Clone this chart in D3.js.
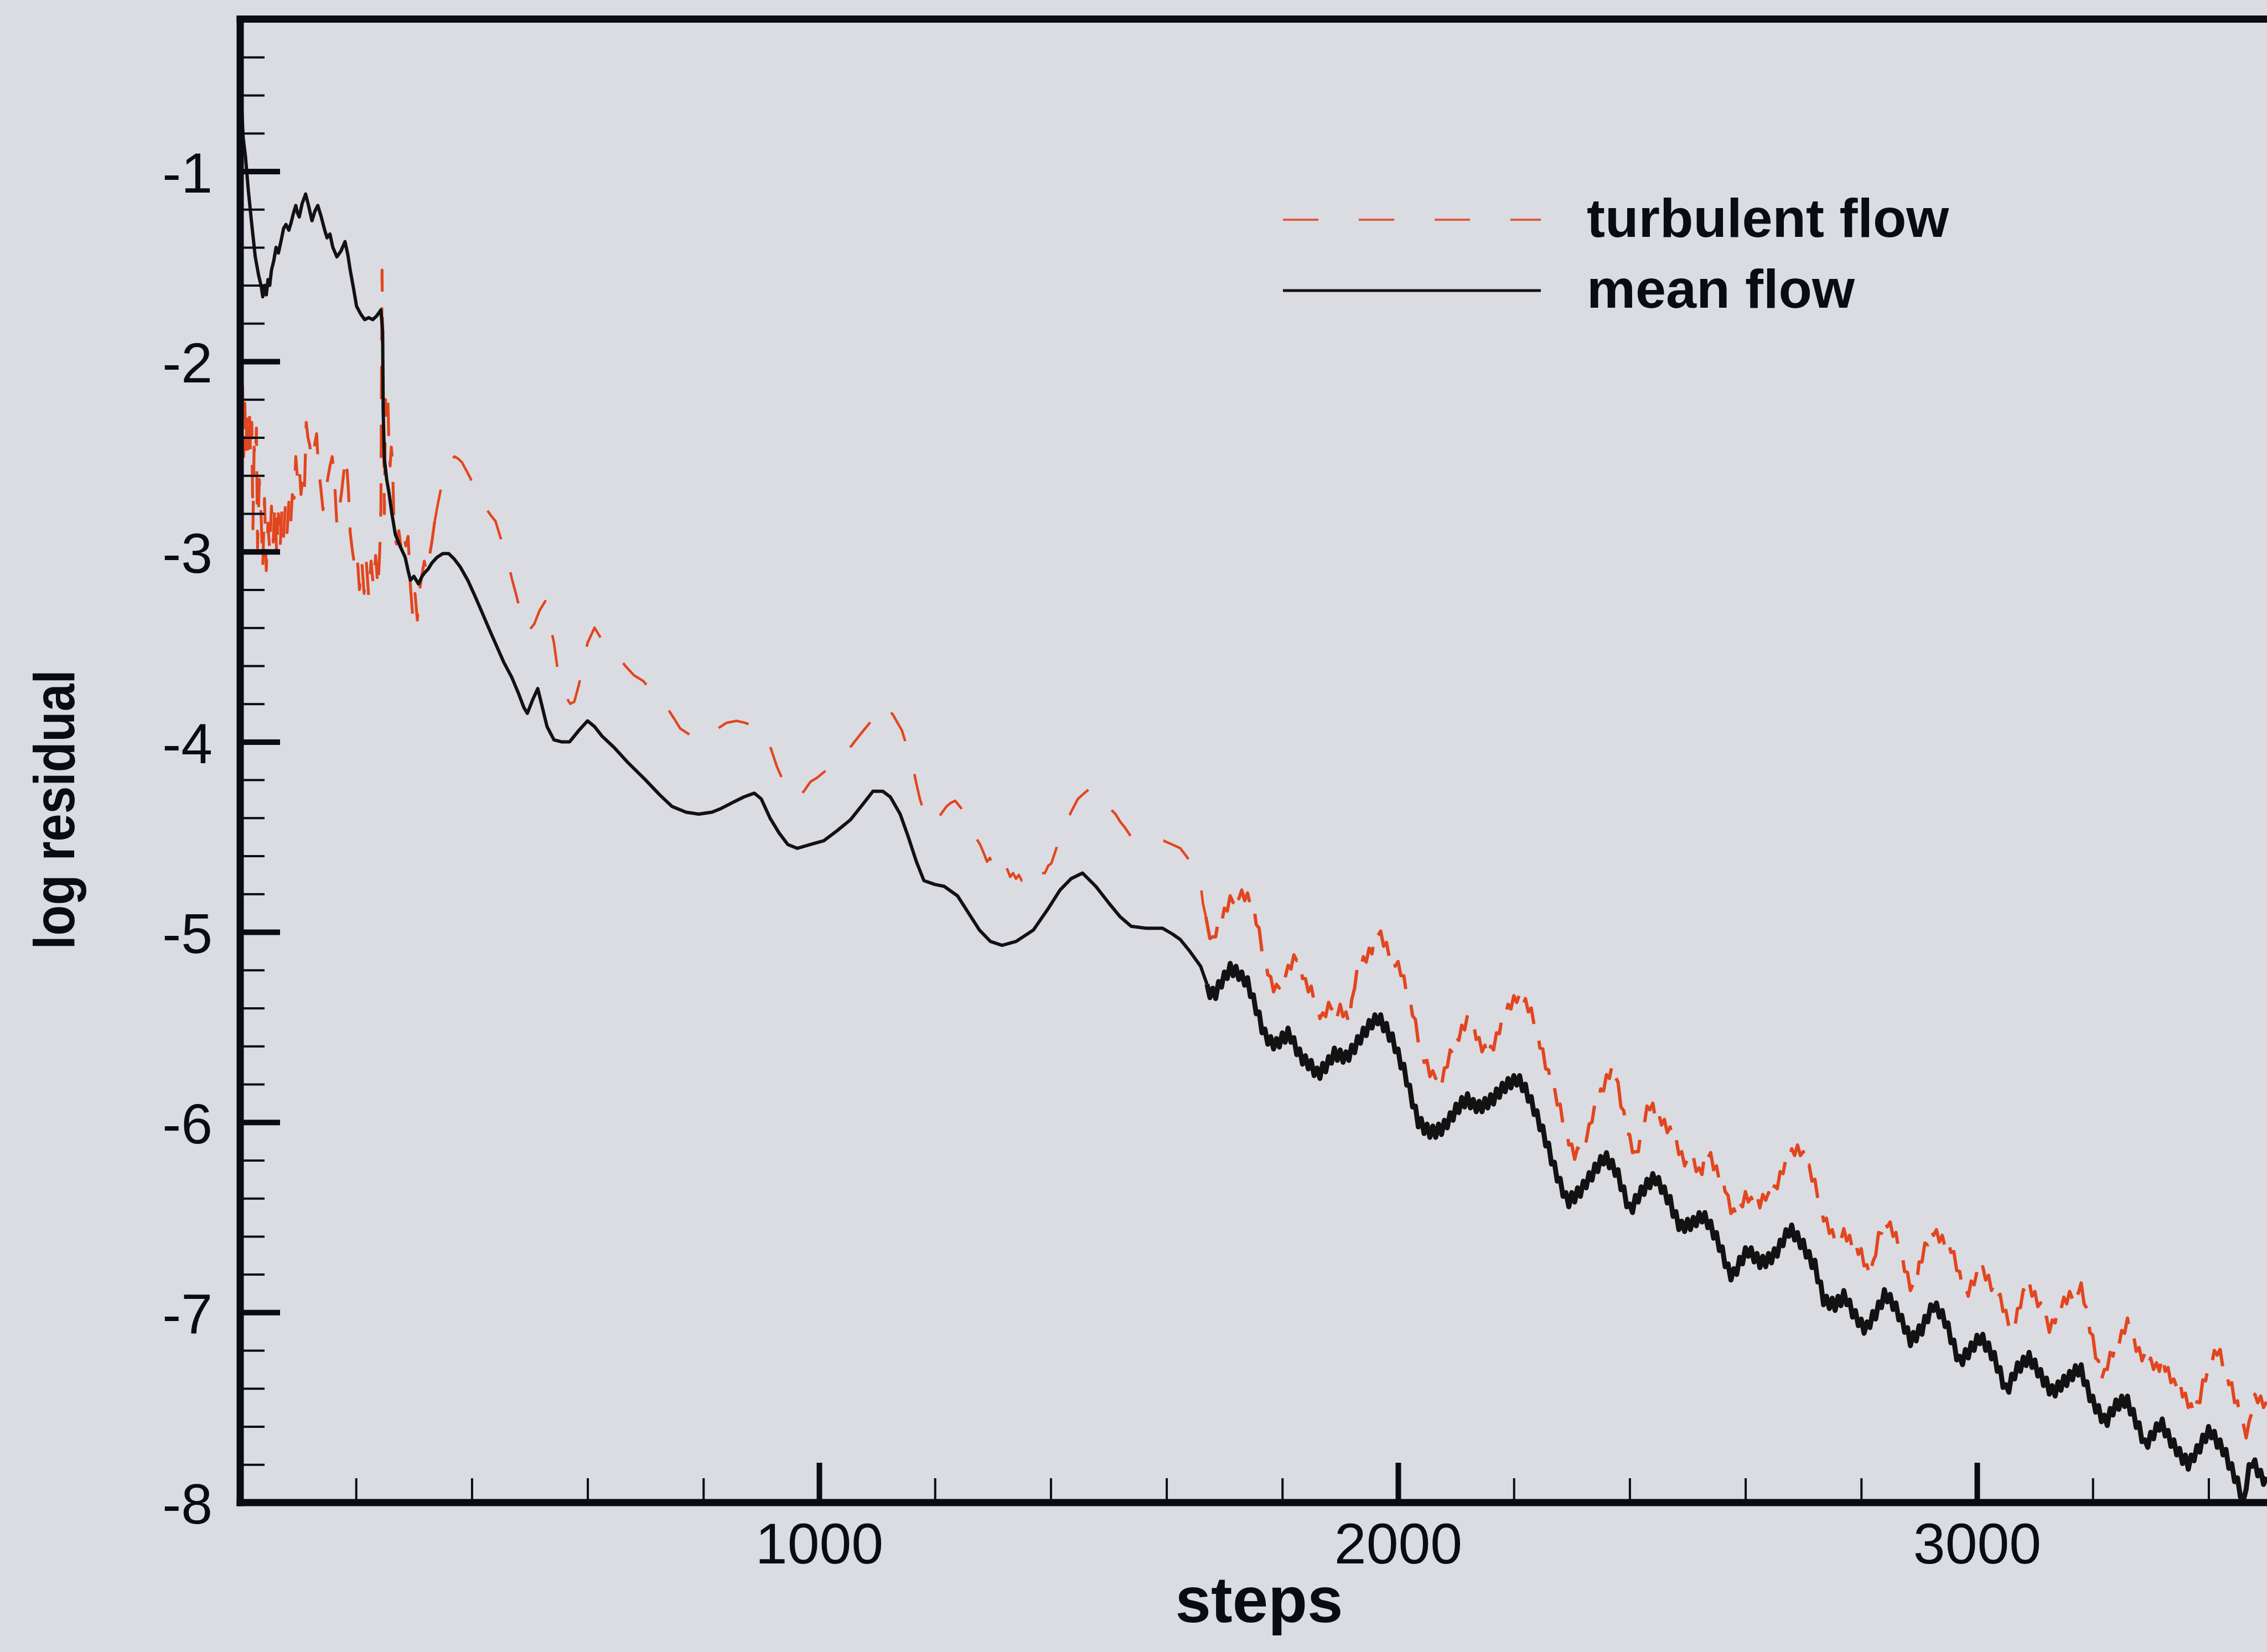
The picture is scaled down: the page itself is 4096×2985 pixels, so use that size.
<!DOCTYPE html>
<html>
<head>
<meta charset="utf-8">
<script src="https://cdn.jsdelivr.net/npm/d3@7"></script>
<style>
  html, body { margin: 0; padding: 0; background: #dbdbe2; }
  svg { display: block; }
</style>
</head>
<body>
<script>
// Convergence history: log10 of the residual versus iteration steps.

// mean flow residual, [step, log residual]
const meanFlow = [
  [0,-0.35],[2,-0.62],[5,-0.82],[9,-0.92],[14,-1.10],[20,-1.28],[26,-1.45],[32,-1.55],[36,-1.60],[39,-1.66],[42,-1.60],
  [45,-1.65],[48,-1.57],[51,-1.60],[54,-1.52],[58,-1.47],[62,-1.40],[66,-1.43],[71,-1.36],[75,-1.30],[79,-1.28],
  [84,-1.31],[88,-1.27],[92,-1.22],[96,-1.18],[99,-1.22],[102,-1.24],[107,-1.17],[113,-1.12],[118,-1.18],[124,-1.26],
  [129,-1.21],[134,-1.18],[140,-1.24],[146,-1.31],[150,-1.35],[155,-1.33],[160,-1.40],[167,-1.45],[174,-1.42],[181,-1.37],
  [186,-1.44],[190,-1.52],[196,-1.62],[201,-1.71],[208,-1.75],[215,-1.78],[222,-1.77],[229,-1.78],[236,-1.76],[243,-1.73],
  [246,-1.84],[247,-2.26],[249,-2.51],[253,-2.62],[257,-2.69],[262,-2.80],[268,-2.91],[276,-2.97],[285,-3.03],[290,-3.10],
  [294,-3.15],[300,-3.13],[308,-3.17],[314,-3.13],[319,-3.11],[325,-3.09],[331,-3.06],[340,-3.03],[350,-3.01],[360,-3.01],
  [370,-3.04],[380,-3.08],[393,-3.15],[405,-3.23],[415,-3.30],[429,-3.40],[442,-3.49],[455,-3.58],[469,-3.66],[480,-3.74],
  [490,-3.82],[496,-3.85],[505,-3.78],[514,-3.72],[522,-3.82],[530,-3.92],[542,-3.99],[555,-4.00],[569,-4.00],[585,-3.94],
  [600,-3.89],[612,-3.92],[625,-3.97],[646,-4.03],[670,-4.11],[700,-4.20],[725,-4.28],[746,-4.34],[770,-4.37],[792,-4.38],
  [815,-4.37],[831,-4.35],[850,-4.32],[870,-4.29],[888,-4.27],[900,-4.30],[915,-4.40],[931,-4.48],[946,-4.54],[962,-4.56],
  [985,-4.54],[1008,-4.52],[1030,-4.47],[1054,-4.41],[1075,-4.33],[1093,-4.26],[1110,-4.26],[1123,-4.29],[1140,-4.38],[1154,-4.50],
  [1168,-4.63],[1181,-4.73],[1200,-4.75],[1216,-4.76],[1239,-4.81],[1258,-4.90],[1277,-4.99],[1296,-5.05],[1316,-5.07],[1340,-5.05],
  [1370,-4.99],[1395,-4.88],[1416,-4.78],[1435,-4.72],[1455,-4.69],[1478,-4.76],[1501,-4.85],[1520,-4.92],[1539,-4.97],[1565,-4.98],
  [1593,-4.98],[1610,-5.01],[1624,-5.04],[1640,-5.10],[1659,-5.18],
  [1670,-5.275],[1675,-5.345],[1680,-5.295],[1685,-5.35],[1690,-5.26],[1695,-5.29],[1700,-5.21],[1705,-5.245],[1710,-5.165],[1715,-5.23],
  [1720,-5.18],[1725,-5.25],[1730,-5.21],[1735,-5.28],[1740,-5.24],[1745,-5.34],[1750,-5.33],[1755,-5.43],[1760,-5.42],[1765,-5.53],
  [1770,-5.51],[1775,-5.59],[1780,-5.55],[1785,-5.615],[1790,-5.56],[1795,-5.605],[1800,-5.53],[1805,-5.58],[1810,-5.505],[1815,-5.58],
  [1820,-5.555],[1825,-5.645],[1830,-5.615],[1835,-5.695],[1840,-5.65],[1845,-5.72],[1850,-5.675],[1855,-5.755],[1860,-5.715],[1865,-5.77],
  [1870,-5.69],[1875,-5.735],[1880,-5.655],[1885,-5.69],[1890,-5.61],[1895,-5.675],[1900,-5.62],[1905,-5.685],[1910,-5.63],[1915,-5.675],
  [1920,-5.595],[1925,-5.635],[1930,-5.55],[1935,-5.585],[1940,-5.505],[1945,-5.545],[1950,-5.465],[1955,-5.505],[1960,-5.435],[1965,-5.483],
  [1970,-5.435],[1975,-5.52],[1980,-5.48],[1985,-5.57],[1990,-5.535],[1995,-5.63],[2000,-5.615],[2005,-5.715],[2010,-5.695],[2015,-5.805],
  [2020,-5.805],[2025,-5.92],[2030,-5.915],[2035,-6.025],[2040,-5.98],[2045,-6.06],[2050,-6.01],[2055,-6.08],[2060,-6.02],[2065,-6.08],
  [2070,-6.01],[2075,-6.065],[2080,-5.99],[2085,-6.03],[2090,-5.95],[2095,-5.99],[2100,-5.905],[2105,-5.95],[2110,-5.87],[2115,-5.92],
  [2120,-5.85],[2125,-5.925],[2130,-5.88],[2135,-5.945],[2140,-5.89],[2145,-5.945],[2150,-5.875],[2155,-5.925],[2160,-5.855],[2165,-5.905],
  [2170,-5.825],[2175,-5.87],[2180,-5.795],[2185,-5.84],[2190,-5.77],[2195,-5.82],[2200,-5.755],[2205,-5.805],[2210,-5.755],[2215,-5.835],
  [2220,-5.80],[2225,-5.89],[2230,-5.865],[2235,-5.96],[2240,-5.94],[2245,-6.04],[2250,-6.02],[2255,-6.125],[2260,-6.11],[2265,-6.22],
  [2270,-6.21],[2275,-6.31],[2280,-6.295],[2285,-6.39],[2290,-6.37],[2295,-6.445],[2300,-6.37],[2305,-6.42],[2310,-6.345],[2315,-6.39],
  [2320,-6.31],[2325,-6.345],[2330,-6.265],[2335,-6.305],[2340,-6.22],[2345,-6.26],[2350,-6.18],[2355,-6.22],[2360,-6.16],[2365,-6.24],
  [2370,-6.20],[2375,-6.28],[2380,-6.25],[2385,-6.355],[2390,-6.34],[2395,-6.445],[2400,-6.43],[2405,-6.475],[2410,-6.385],[2415,-6.42],
  [2420,-6.34],[2425,-6.38],[2430,-6.30],[2435,-6.345],[2440,-6.27],[2445,-6.325],[2450,-6.29],[2455,-6.37],[2460,-6.34],[2465,-6.425],
  [2470,-6.39],[2475,-6.495],[2480,-6.47],[2485,-6.565],[2490,-6.52],[2495,-6.575],[2500,-6.51],[2505,-6.565],[2510,-6.50],[2515,-6.545],
  [2520,-6.475],[2525,-6.525],[2530,-6.475],[2535,-6.555],[2540,-6.52],[2545,-6.61],[2550,-6.58],[2555,-6.675],[2560,-6.655],[2565,-6.76],
  [2570,-6.745],[2575,-6.83],[2580,-6.77],[2585,-6.80],[2590,-6.71],[2595,-6.745],[2600,-6.66],[2605,-6.705],[2610,-6.66],[2615,-6.735],
  [2620,-6.69],[2625,-6.765],[2630,-6.705],[2635,-6.76],[2640,-6.69],[2645,-6.74],[2650,-6.665],[2655,-6.705],[2660,-6.62],[2665,-6.65],
  [2670,-6.565],[2675,-6.60],[2680,-6.54],[2685,-6.62],[2690,-6.58],[2695,-6.66],[2700,-6.62],[2705,-6.71],[2710,-6.68],[2715,-6.765],
  [2720,-6.725],[2725,-6.84],[2730,-6.84],[2735,-6.96],[2740,-6.915],[2745,-6.98],[2750,-6.925],[2755,-6.99],[2760,-6.915],[2765,-6.965],
  [2770,-6.885],[2775,-6.96],[2780,-6.935],[2785,-7.025],[2790,-6.99],[2795,-7.07],[2800,-7.035],[2805,-7.11],[2810,-7.05],[2815,-7.08],
  [2820,-6.995],[2825,-7.035],[2830,-6.945],[2835,-6.975],[2840,-6.88],[2845,-6.945],[2850,-6.905],[2855,-6.985],[2860,-6.95],[2865,-7.04],
  [2870,-7.015],[2875,-7.105],[2880,-7.08],[2885,-7.175],[2890,-7.105],[2895,-7.15],[2900,-7.07],[2905,-7.115],[2910,-7.02],[2915,-7.05],
  [2920,-6.96],[2925,-6.99],[2930,-6.95],[2935,-7.025],[2940,-6.99],[2945,-7.075],[2950,-7.055],[2955,-7.16],[2960,-7.145],[2965,-7.25],
  [2970,-7.23],[2975,-7.275],[2980,-7.195],[2985,-7.24],[2990,-7.16],[2995,-7.20],[3000,-7.12],[3005,-7.165],[3010,-7.115],[3015,-7.20],
  [3020,-7.16],[3025,-7.245],[3030,-7.21],[3035,-7.31],[3040,-7.29],[3045,-7.395],[3050,-7.38],[3055,-7.42],[3060,-7.325],[3065,-7.35],
  [3070,-7.265],[3075,-7.31],[3080,-7.235],[3085,-7.28],[3090,-7.21],[3095,-7.29],[3100,-7.25],[3105,-7.335],[3110,-7.30],[3115,-7.385],
  [3120,-7.345],[3125,-7.43],[3130,-7.385],[3135,-7.44],[3140,-7.365],[3145,-7.41],[3150,-7.335],[3155,-7.385],[3160,-7.31],[3165,-7.355],
  [3170,-7.28],[3175,-7.33],[3180,-7.275],[3185,-7.38],[3190,-7.365],[3195,-7.465],[3200,-7.44],[3205,-7.525],[3210,-7.49],[3215,-7.575],
  [3220,-7.54],[3225,-7.595],[3230,-7.505],[3235,-7.54],[3240,-7.46],[3245,-7.51],[3250,-7.44],[3255,-7.495],[3260,-7.44],[3265,-7.535],
  [3270,-7.51],[3275,-7.605],[3280,-7.58],[3285,-7.68],[3290,-7.67],[3295,-7.71],[3300,-7.63],[3305,-7.665],[3310,-7.585],[3315,-7.62],
  [3320,-7.56],[3325,-7.65],[3330,-7.62],[3335,-7.705],[3340,-7.67],[3345,-7.75],[3350,-7.715],[3355,-7.795],[3360,-7.75],[3365,-7.825],
  [3370,-7.75],[3375,-7.78],[3380,-7.70],[3385,-7.735],[3390,-7.645],[3395,-7.68],[3400,-7.60],[3405,-7.66],[3410,-7.625],[3415,-7.71],
  [3420,-7.67],[3425,-7.75],[3430,-7.72],[3435,-7.82],[3440,-7.795],[3445,-7.89],[3450,-7.87],[3455,-7.97],[3460,-7.99],[3465,-7.93],
  [3470,-7.80],[3475,-7.81],[3480,-7.775],[3485,-7.86],[3490,-7.83],[3495,-7.905],[3500,-7.865]
];

// turbulent flow residual, [step, log residual]
const turbulentFlow = [
  [0,-1.90],[2,-2.45],[4,-2.10],[6,-2.50],[8,-2.22],[10,-2.48],[12,-2.25],[14,-2.46],[16,-2.28],[18,-2.50],
  [20,-2.32],[22,-2.88],[24,-2.45],[26,-2.52],[28,-2.35],[30,-2.98],[33,-2.62],[36,-2.80],[39,-3.08],[42,-2.72],
  [45,-3.10],[48,-2.85],[51,-3.00],[54,-2.76],[57,-2.95],[60,-2.74],[63,-3.02],[66,-2.80],[69,-2.98],[72,-2.78],
  [75,-2.92],[78,-2.76],[81,-2.90],[84,-2.74],[87,-2.86],[90,-2.70],[93,-2.72],[96,-2.50],[99,-2.62],[102,-2.55],
  [105,-2.70],[108,-2.60],[111,-2.68],[114,-2.32],[117,-2.40],[120,-2.44],[124,-2.52],[128,-2.45],[132,-2.38],[135,-2.55],
  [139,-2.66],[143,-2.78],[147,-2.70],[151,-2.62],[155,-2.55],[159,-2.50],[163,-2.63],[167,-2.86],[171,-2.78],[175,-2.69],
  [179,-2.58],[183,-2.50],[187,-2.68],[190,-2.90],[194,-3.00],[198,-3.08],[202,-3.02],[206,-3.20],[210,-3.05],[214,-3.22],
  [218,-3.06],[222,-3.24],[226,-3.05],[230,-3.18],[234,-3.02],[238,-3.20],[241,-3.00],[243,-2.78],[245,-1.52],[247,-2.20],
  [249,-2.80],[251,-2.20],[253,-2.28],[255,-2.18],[257,-2.46],[259,-2.55],[261,-2.45],[263,-2.52],[266,-2.90],[270,-2.96],
  [274,-2.89],[278,-2.98],[282,-2.90],[286,-2.97],[290,-2.92],[294,-3.18],[298,-3.34],[302,-3.22],[306,-3.36],[310,-3.20],
  [314,-3.12],[318,-3.05],[322,-3.11],[326,-3.04],[331,-2.95],[336,-2.84],[342,-2.74],[348,-2.65],[355,-2.58],[362,-2.53],
  [370,-2.50],[376,-2.51],[383,-2.53],[390,-2.57],[397,-2.61],[404,-2.66],[414,-2.72],[424,-2.77],[433,-2.81],[441,-2.84],
  [450,-2.93],[461,-3.03],[469,-3.14],[477,-3.23],[485,-3.33],[494,-3.42],[500,-3.41],[508,-3.38],[517,-3.31],[527,-3.26],
  [535,-3.38],[542,-3.48],[550,-3.66],[560,-3.75],[570,-3.80],[577,-3.79],[585,-3.70],[592,-3.60],[600,-3.48],[612,-3.40],
  [622,-3.45],[632,-3.49],[642,-3.52],[650,-3.54],[665,-3.60],[680,-3.65],[696,-3.68],[710,-3.73],[722,-3.77],[735,-3.81],
  [750,-3.88],[760,-3.93],[770,-3.95],[780,-3.97],[791,-3.99],[802,-3.98],[812,-3.96],[825,-3.93],[840,-3.90],[858,-3.89],
  [872,-3.90],[890,-3.92],[904,-3.94],[915,-4.02],[927,-4.13],[937,-4.20],[947,-4.27],[956,-4.28],[966,-4.29],[976,-4.25],
  [985,-4.21],[996,-4.19],[1008,-4.16],[1024,-4.12],[1039,-4.08],[1056,-4.02],[1074,-3.95],[1093,-3.88],[1112,-3.80],[1128,-3.86],
  [1143,-3.94],[1152,-4.03],[1162,-4.13],[1168,-4.22],[1174,-4.30],[1180,-4.36],[1185,-4.41],[1191,-4.43],[1197,-4.43],[1208,-4.39],
  [1220,-4.34],[1228,-4.32],[1235,-4.31],[1243,-4.34],[1251,-4.37],[1258,-4.42],[1266,-4.47],[1272,-4.51],[1278,-4.54],[1285,-4.59],
  [1290,-4.63],[1295,-4.61],[1300,-4.65],[1305,-4.63],[1310,-4.67],[1315,-4.65],[1320,-4.69],[1325,-4.67],[1330,-4.71],[1335,-4.69],
  [1340,-4.72],[1345,-4.70],[1350,-4.73],[1355,-4.71],[1362,-4.74],[1368,-4.71],[1375,-4.73],[1382,-4.69],[1390,-4.69],[1396,-4.65],
  [1401,-4.64],[1412,-4.54],[1424,-4.45],[1435,-4.37],[1447,-4.30],[1458,-4.27],[1470,-4.24],[1482,-4.27],[1493,-4.31],[1502,-4.35],
  [1512,-4.38],[1520,-4.42],[1528,-4.45],[1539,-4.50],[1552,-4.51],[1566,-4.52],[1580,-4.53],[1595,-4.52],[1610,-4.54],[1624,-4.56],
  [1634,-4.60],[1643,-4.64],[1651,-4.70],[1659,-4.75],[1663,-4.85],[1668,-4.92],
  [1675,-5.035],[1680,-5.025],[1685,-5.025],[1690,-4.93],[1695,-4.955],[1700,-4.875],[1705,-4.89],[1710,-4.81],[1715,-4.845],[1720,-4.78],
  [1725,-4.825],[1730,-4.78],[1735,-4.835],[1740,-4.795],[1745,-4.86],[1750,-4.845],[1755,-4.96],[1760,-4.98],[1765,-5.105],[1770,-5.12],
  [1775,-5.225],[1780,-5.235],[1785,-5.315],[1790,-5.275],[1795,-5.295],[1800,-5.22],[1805,-5.24],[1810,-5.175],[1815,-5.195],[1820,-5.12],
  [1825,-5.15],[1830,-5.14],[1835,-5.245],[1840,-5.245],[1845,-5.315],[1850,-5.285],[1855,-5.365],[1860,-5.375],[1865,-5.455],[1870,-5.425],
  [1875,-5.445],[1880,-5.37],[1885,-5.405],[1890,-5.375],[1895,-5.445],[1900,-5.38],[1905,-5.445],[1910,-5.42],[1915,-5.48],[1920,-5.355],
  [1925,-5.295],[1930,-5.175],[1935,-5.20],[1940,-5.13],[1945,-5.158],[1950,-5.085],[1955,-5.115],[1960,-5.005],[1965,-5.02],[1970,-4.995],
  [1975,-5.075],[1980,-5.055],[1985,-5.135],[1990,-5.11],[1995,-5.18],[2000,-5.155],[2005,-5.23],[2010,-5.23],[2015,-5.335],[2020,-5.335],
  [2025,-5.44],[2030,-5.46],[2035,-5.58],[2040,-5.59],[2045,-5.685],[2050,-5.675],[2055,-5.76],[2060,-5.73],[2065,-5.77],[2070,-5.75],
  [2075,-5.81],[2080,-5.715],[2085,-5.71],[2090,-5.62],[2095,-5.64],[2100,-5.555],[2105,-5.57],[2110,-5.49],[2115,-5.515],[2120,-5.435],
  [2125,-5.475],[2130,-5.475],[2135,-5.565],[2140,-5.555],[2145,-5.63],[2150,-5.595],[2155,-5.66],[2160,-5.60],[2165,-5.62],[2170,-5.53],
  [2175,-5.535],[2180,-5.44],[2185,-5.45],[2190,-5.38],[2195,-5.405],[2200,-5.335],[2205,-5.37],[2210,-5.325],[2215,-5.39],[2220,-5.35],
  [2225,-5.42],[2230,-5.40],[2235,-5.49],[2240,-5.495],[2245,-5.61],[2250,-5.615],[2255,-5.72],[2260,-5.725],[2265,-5.825],[2270,-5.815],
  [2275,-5.91],[2280,-5.905],[2285,-6.015],[2290,-6.02],[2295,-6.12],[2300,-6.115],[2305,-6.195],[2310,-6.135],[2315,-6.15],[2320,-6.08],
  [2325,-6.10],[2330,-6.01],[2335,-6.00],[2340,-5.90],[2345,-5.91],[2350,-5.825],[2355,-5.835],[2360,-5.75],[2365,-5.77],[2370,-5.695],
  [2375,-5.76],[2380,-5.79],[2385,-5.92],[2390,-5.94],[2395,-6.06],[2400,-6.065],[2405,-6.16],[2410,-6.155],[2415,-6.155],[2420,-6.04],
  [2425,-6.02],[2430,-5.915],[2435,-5.935],[2440,-5.90],[2445,-5.99],[2450,-5.95],[2455,-6.015],[2460,-5.985],[2465,-6.055],[2470,-6.025],
  [2475,-6.10],[2480,-6.08],[2485,-6.17],[2490,-6.155],[2495,-6.23],[2500,-6.195],[2505,-6.225],[2510,-6.18],[2515,-6.26],[2520,-6.24],
  [2525,-6.275],[2530,-6.155],[2535,-6.19],[2540,-6.16],[2545,-6.25],[2550,-6.23],[2555,-6.31],[2560,-6.285],[2565,-6.365],[2570,-6.385],
  [2575,-6.48],[2580,-6.455],[2585,-6.495],[2590,-6.425],[2595,-6.445],[2600,-6.365],[2605,-6.42],[2610,-6.395],[2615,-6.435],[2620,-6.385],
  [2625,-6.45],[2630,-6.38],[2635,-6.41],[2640,-6.37],[2645,-6.41],[2650,-6.335],[2655,-6.35],[2660,-6.26],[2665,-6.27],[2670,-6.19],
  [2675,-6.21],[2680,-6.14],[2685,-6.175],[2690,-6.12],[2695,-6.175],[2700,-6.155],[2705,-6.24],[2710,-6.225],[2715,-6.31],[2720,-6.30],
  [2725,-6.40],[2730,-6.42],[2735,-6.52],[2740,-6.505],[2745,-6.585],[2750,-6.565],[2755,-6.63],[2760,-6.595],[2765,-6.62],[2770,-6.56],
  [2775,-6.625],[2780,-6.595],[2785,-6.67],[2790,-6.63],[2795,-6.695],[2800,-6.665],[2805,-6.755],[2810,-6.75],[2815,-6.815],[2820,-6.735],
  [2825,-6.70],[2830,-6.58],[2835,-6.585],[2840,-6.51],[2845,-6.55],[2850,-6.525],[2855,-6.60],[2860,-6.58],[2865,-6.675],[2870,-6.68],
  [2875,-6.785],[2880,-6.79],[2885,-6.885],[2890,-6.85],[2895,-6.87],[2900,-6.735],[2905,-6.735],[2910,-6.635],[2915,-6.645],[2920,-6.565],
  [2925,-6.595],[2930,-6.565],[2935,-6.63],[2940,-6.595],[2945,-6.66],[2950,-6.62],[2955,-6.685],[2960,-6.68],[2965,-6.78],[2970,-6.785],
  [2975,-6.875],[2980,-6.86],[2985,-6.915],[2990,-6.835],[2995,-6.855],[3000,-6.785],[3005,-6.82],[3010,-6.76],[3015,-6.83],[3020,-6.805],
  [3025,-6.885],[3030,-6.85],[3035,-6.92],[3040,-6.905],[3045,-6.995],[3050,-6.99],[3055,-7.075],[3060,-7.055],[3065,-7.09],[3070,-6.98],
  [3075,-6.975],[3080,-6.88],[3085,-6.90],[3090,-6.835],[3095,-6.915],[3100,-6.89],[3105,-6.97],[3110,-6.95],[3115,-7.04],[3120,-7.025],
  [3125,-7.105],[3130,-7.04],[3135,-7.055],[3140,-6.965],[3145,-6.985],[3150,-6.92],[3155,-6.955],[3160,-6.89],[3165,-6.93],[3170,-6.865],
  [3175,-6.90],[3180,-6.845],[3185,-6.955],[3190,-6.98],[3195,-7.105],[3200,-7.12],[3205,-7.24],[3210,-7.255],[3215,-7.355],[3220,-7.30],
  [3225,-7.30],[3230,-7.21],[3235,-7.23],[3240,-7.15],[3245,-7.175],[3250,-7.095],[3255,-7.11],[3260,-7.03],[3265,-7.115],[3270,-7.11],
  [3275,-7.205],[3280,-7.185],[3285,-7.255],[3290,-7.215],[3295,-7.28],[3300,-7.24],[3305,-7.30],[3310,-7.265],[3315,-7.31],[3320,-7.225],
  [3325,-7.31],[3330,-7.29],[3335,-7.37],[3340,-7.35],[3345,-7.395],[3350,-7.35],[3355,-7.445],[3360,-7.425],[3365,-7.50],[3370,-7.48],
  [3375,-7.54],[3380,-7.47],[3385,-7.475],[3390,-7.355],[3395,-7.36],[3400,-7.27],[3405,-7.28],[3410,-7.20],[3415,-7.225],[3420,-7.195],
  [3425,-7.295],[3430,-7.285],[3435,-7.38],[3440,-7.37],[3445,-7.475],[3450,-7.465],[3455,-7.58],[3460,-7.585],[3465,-7.66],[3470,-7.575],
  [3475,-7.525],[3480,-7.43],[3485,-7.475],[3490,-7.44],[3495,-7.50],[3500,-7.47]
];

// axis ticks and text
const yMajorTicks = [-1, -2, -3, -4, -5, -6, -7, -8];
const xMajorTicks = [1000, 2000, 3000];
const xTitle = "steps";
const yTitle = "log residual";
const seriesNames = ["turbulent flow", "mean flow"];

const W = 4096, H = 2985;
const FONT = "'Liberation Sans', Arial, Helvetica, sans-serif";
const INK = "#0b0b14";
const RED = "#e2461e";
const BLACK = "#121212";

const x = d3.scaleLinear().domain([0, 3500]).range([434, 4095]);
const y = d3.scaleLinear().domain([-8, -0.2]).range([2715, 34.5]);

const yMinorTicks = d3.range(-39, -1).map(i => i / 5).filter(v => Math.abs(v - Math.round(v)) > 1e-6);
const xMinorTicks = d3.range(200, 3500, 200).filter(v => v % 1000 !== 0);

// split a series into consecutive pieces at the given steps (pieces share their end points)
function splitAt(data, cuts) {
  const parts = [];
  let start = 0;
  for (const c of cuts) {
    const idx = data.findIndex(d => d[0] >= c);
    parts.push(data.slice(start, idx + 1));
    start = idx;
  }
  parts.push(data.slice(start));
  return parts;
}

const svg = d3.select("body").append("svg")
  .attr("width", W).attr("height", H)
  .attr("viewBox", `0 0 ${W} ${H}`);

svg.append("rect").attr("width", W).attr("height", H).attr("fill", "#dbdbe2");

svg.append("clipPath").attr("id", "plot-area")
  .append("rect")
  .attr("x", x(0)).attr("y", y(-0.2))
  .attr("width", W - x(0)).attr("height", y(-8) - y(-0.2));

const line = d3.line().x(d => x(d[0])).y(d => y(d[1]));
const curves = svg.append("g").attr("clip-path", "url(#plot-area)");

// turbulent flow: the noisy start and tail are drawn a little heavier
const turbParts = splitAt(turbulentFlow, [336, 1668]);
const turbStyle = [
  { w: 5.2, dash: "60,46" },
  { w: 4.5, dash: "58,62" },
  { w: 6, dash: "70,34" }
];
turbParts.forEach((part, i) => {
  curves.append("path")
    .datum(part)
    .attr("d", line)
    .attr("fill", "none")
    .attr("stroke", RED)
    .attr("stroke-width", turbStyle[i].w)
    .attr("stroke-linejoin", "round")
    .attr("stroke-dasharray", turbStyle[i].dash);
});

// mean flow
const meanParts = splitAt(meanFlow, [1668]);
const meanWidth = [6, 9];
meanParts.forEach((part, i) => {
  curves.append("path")
    .datum(part)
    .attr("d", line)
    .attr("fill", "none")
    .attr("stroke", BLACK)
    .attr("stroke-width", meanWidth[i])
    .attr("stroke-linejoin", "round");
});

// left axis: minor and major ticks pointing into the plot
const gy = svg.append("g").attr("transform", `translate(${x(0)},0)`);
gy.append("g")
  .call(d3.axisLeft(y).tickValues(yMinorTicks).tickSize(-44).tickFormat(""))
  .call(g => g.select(".domain").remove())
  .call(g => g.selectAll("line").attr("stroke", INK).attr("stroke-width", 4));
gy.append("g")
  .call(d3.axisLeft(y).tickValues(yMajorTicks).tickSize(-72).tickPadding(50).tickFormat(d => String(d)))
  .call(g => g.select(".domain").remove())
  .call(g => g.selectAll("line").attr("stroke", INK).attr("stroke-width", 10))
  .call(g => g.selectAll("text")
    .attr("fill", INK).attr("font-family", FONT).attr("font-size", 102)
    .attr("dy", "0.37em"));

// bottom axis
const gx = svg.append("g").attr("transform", `translate(0,${y(-8)})`);
gx.append("g")
  .call(d3.axisBottom(x).tickValues(xMinorTicks).tickSize(-44).tickFormat(""))
  .call(g => g.select(".domain").remove())
  .call(g => g.selectAll("line").attr("stroke", INK).attr("stroke-width", 4));
gx.append("g")
  .call(d3.axisBottom(x).tickValues(xMajorTicks).tickSize(-72).tickFormat(d => String(d)))
  .call(g => g.select(".domain").remove())
  .call(g => g.selectAll("line").attr("stroke", INK).attr("stroke-width", 10))
  .call(g => g.selectAll("text")
    .attr("fill", INK).attr("font-family", FONT).attr("font-size", 104)
    .attr("y", 110).attr("dy", 0));

// frame: left, bottom and top edges (the right edge lies beyond the drawing)
const frame = svg.append("g").attr("stroke", INK).attr("stroke-width", 13).attr("stroke-linecap", "square");
frame.append("line").attr("x1", x(0)).attr("x2", x(0)).attr("y1", y(-0.2)).attr("y2", y(-8));
frame.append("line").attr("x1", x(0)).attr("x2", W + 10).attr("y1", y(-8)).attr("y2", y(-8));
frame.append("line").attr("x1", x(0)).attr("x2", W + 10).attr("y1", y(-0.2)).attr("y2", y(-0.2));

// axis titles
svg.append("text")
  .attr("x", 2275).attr("y", 2931)
  .attr("text-anchor", "middle")
  .attr("font-family", FONT).attr("font-weight", "bold").attr("font-size", 116)
  .attr("fill", INK)
  .text(xTitle);

svg.append("text")
  .attr("transform", "translate(134,1463) rotate(-90)")
  .attr("text-anchor", "middle")
  .attr("font-family", FONT).attr("font-weight", "bold").attr("font-size", 104)
  .attr("textLength", 505).attr("lengthAdjust", "spacingAndGlyphs")
  .attr("fill", INK)
  .text(yTitle);

// legend
const legend = svg.append("g");
legend.append("line")
  .attr("x1", 2318).attr("x2", 2784).attr("y1", 397).attr("y2", 397)
  .attr("stroke", "#d9603e").attr("stroke-width", 4).attr("stroke-dasharray", "64,73");
legend.append("line")
  .attr("x1", 2318).attr("x2", 2784).attr("y1", 525).attr("y2", 525)
  .attr("stroke", BLACK).attr("stroke-width", 5);
legend.selectAll("text.entry")
  .data(seriesNames)
  .join("text")
  .attr("class", "entry")
  .attr("x", 2867)
  .attr("y", (d, i) => [428, 556][i])
  .attr("font-family", FONT).attr("font-weight", "bold").attr("font-size", 99)
  .attr("fill", INK)
  .text(d => d);
</script>
</body>
</html>
